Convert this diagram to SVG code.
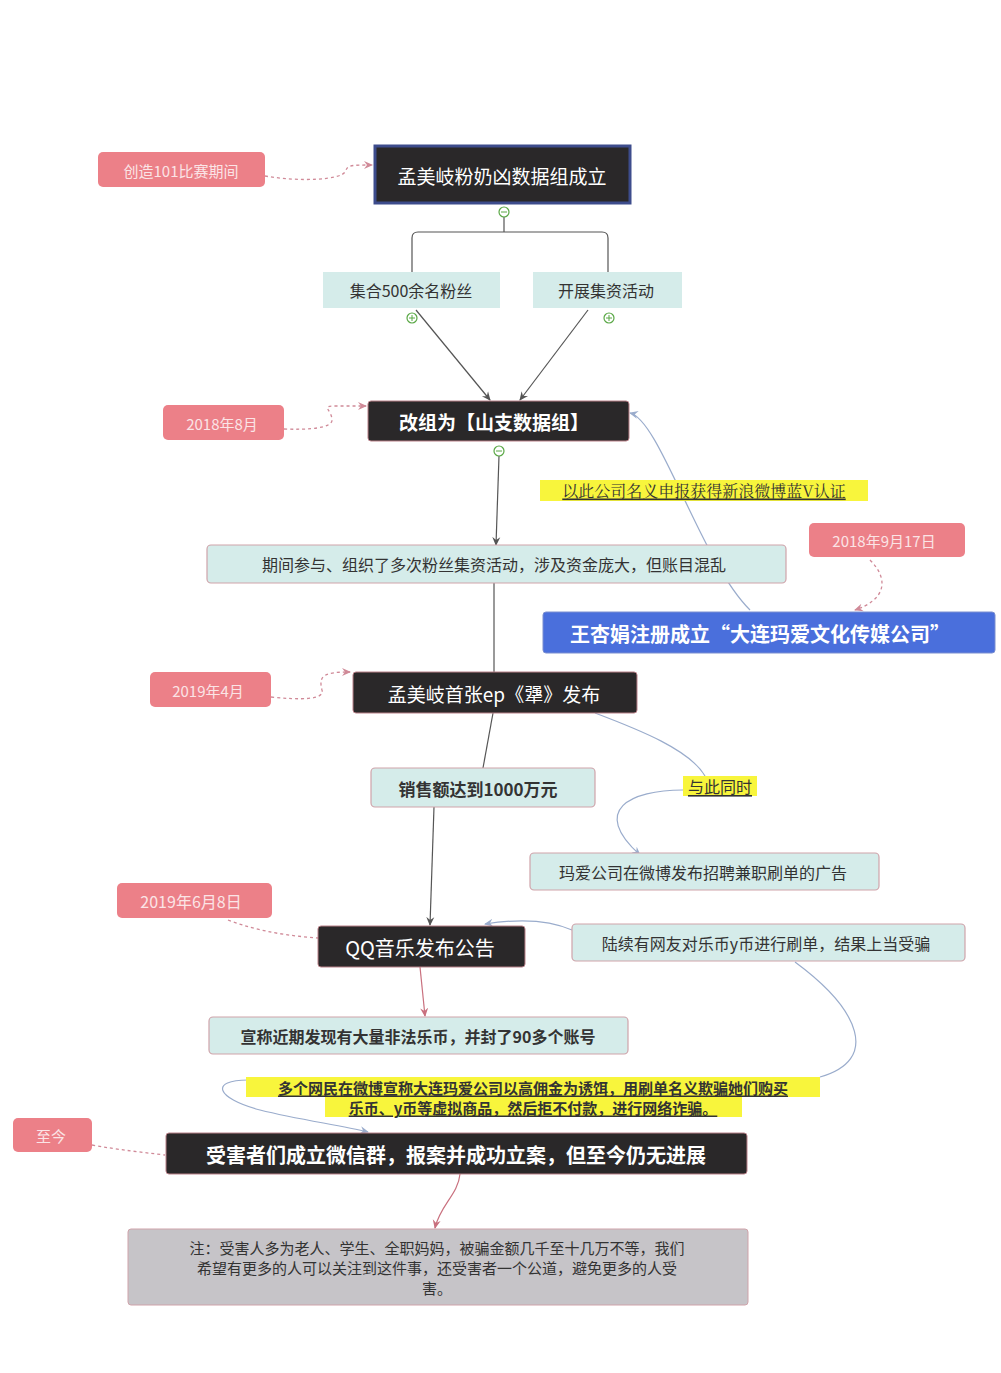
<svg xmlns="http://www.w3.org/2000/svg" width="1001" height="1373" viewBox="0 0 1001 1373">
<style>
text{font-family:"Noto Sans CJK SC","Liberation Sans",sans-serif;text-anchor:middle;dominant-baseline:central}
.pink{fill:#ec8088}
.pt{fill:#fbe4e6;font-size:15px}
.dark{fill:#2a2829;stroke:#b98088;stroke-width:1}
.dt{fill:#fff;font-size:19px}
.b{font-weight:bold}
.lt{fill:#d5ecea;stroke:#cfa3aa;stroke-width:1.2}
.ltt{fill:#333;font-size:16px}
.ln{fill:none;stroke:#555;stroke-width:1.2}
.bl{fill:none;stroke:#9aaccc;stroke-width:1.2}
.pl{fill:none;stroke:#c9707e;stroke-width:1.2}
.dash{fill:none;stroke:#d08a98;stroke-width:1.3;stroke-dasharray:3 3}
.yl{fill:#f8f53c}
.yt{fill:#333;font-size:16px;text-decoration:underline}
.circ{fill:#fff;stroke:#5aa846;stroke-width:1.2}
</style>
<defs>
<marker id="ag" markerWidth="10" markerHeight="10" refX="8" refY="5" orient="auto" markerUnits="userSpaceOnUse"><path d="M0,1 L9,5 L0,9 L3,5z" fill="#555"/></marker>
<marker id="ab" markerWidth="10" markerHeight="10" refX="8" refY="5" orient="auto" markerUnits="userSpaceOnUse"><path d="M0,1 L9,5 L0,9 L3,5z" fill="#9aaccc"/></marker>
<marker id="ap" markerWidth="10" markerHeight="10" refX="8" refY="5" orient="auto" markerUnits="userSpaceOnUse"><path d="M0,1 L9,5 L0,9 L3,5z" fill="#c9707e"/></marker>
<marker id="ad" markerWidth="10" markerHeight="10" refX="8" refY="5" orient="auto" markerUnits="userSpaceOnUse"><path d="M0,1 L9,5 L0,9 L3,5z" fill="#d08a98"/></marker>
</defs>
<rect width="1001" height="1373" fill="#fff"/>
<g id="connectors">
<path class="dash" d="M265,176 C300,182 340,180 345,172 C348,165 350,165 372,165" marker-end="url(#ad)"/>
<path class="ln" d="M504,216 V232 M412,272 V238 Q412,232 418,232 H602 Q608,232 608,238 V272"/>
<path class="ln" d="M416,310 L490,400" marker-end="url(#ag)"/>
<path class="ln" d="M588,310 L520,400" marker-end="url(#ag)"/>
<path class="dash" d="M284,429 C310,430 332,428 332,420 C332,410 320,406 335,406 L366,406" marker-end="url(#ad)"/>
<path class="ln" d="M499,456 L496,545" marker-end="url(#ag)"/>
<path class="bl" d="M750,610 C700,560 660,420 630,413" marker-end="url(#ab)"/>
<path class="dash" d="M870,560 C890,580 885,600 855,610" marker-end="url(#ad)"/>
<path class="ln" d="M494,583 L494,672"/>
<path class="dash" d="M271,697 C300,700 325,700 322,690 C318,675 325,672 350,672" marker-end="url(#ad)"/>
<path class="ln" d="M493,713 L483,768"/>
<path class="bl" d="M595,713 C640,730 690,750 705,776"/>
<path class="bl" d="M683,790 C630,790 590,810 640,855" marker-end="url(#ab)"/>
<path class="ln" d="M434,807 L430,925" marker-end="url(#ag)"/>
<path class="dash" d="M228,920 C260,932 290,936 318,938"/>
<path class="bl" d="M572,930 C545,918 510,920 485,924" marker-end="url(#ab)"/>
<path class="pl" d="M420,967 L425,1016" marker-end="url(#ap)"/>
<path class="bl" d="M795,962 C860,1010 880,1060 820,1077"/>
<path class="bl" d="M248,1080 C210,1080 215,1098 260,1110 C300,1120 340,1125 368,1132" marker-end="url(#ab)"/>
<path class="dash" d="M92,1145 C120,1150 140,1152 165,1155"/>
<path class="pl" d="M460,1174 C458,1195 440,1205 435,1228" marker-end="url(#ap)"/>
</g>
<g id="n1"><rect class="pink" x="98" y="152" width="167" height="35" rx="5"/><text class="pt" x="181" y="170">创造101比赛期间</text></g>
<g id="n2"><rect x="375" y="146" width="255" height="57" fill="#2a2829" stroke="#3d4c8c" stroke-width="3"/><text class="dt" x="502" y="175">孟美岐粉奶凶数据组成立</text></g>
<g id="c1"><circle class="circ" cx="504" cy="212" r="5"/><path d="M501,212h6" stroke="#5aa846"/></g>
<g id="n3"><rect x="323" y="272" width="177" height="36" fill="#d5ecea"/><text class="ltt" x="411" y="290">集合500余名粉丝</text></g>
<g id="n4"><rect x="533" y="272" width="149" height="36" fill="#d5ecea"/><text class="ltt" x="606" y="290">开展集资活动</text></g>
<g id="c2"><circle class="circ" cx="412" cy="318" r="5"/><path d="M409,318h6M412,315v6" stroke="#5aa846"/></g>
<g id="c3"><circle class="circ" cx="609" cy="318" r="5"/><path d="M606,318h6M609,315v6" stroke="#5aa846"/></g>
<g id="n5"><rect class="pink" x="163" y="405" width="121" height="35" rx="5"/><text class="pt" x="222" y="423">2018年8月</text></g>
<g id="n6"><rect class="dark" x="368" y="401" width="261" height="40" rx="3"/><text class="dt b" x="494" y="421">改组为【山支数据组】</text></g>
<g id="c4"><circle class="circ" cx="499" cy="451" r="5"/><path d="M496,451h6" stroke="#5aa846"/></g>
<g id="n7"><rect class="yl" x="540" y="480" width="328" height="21"/><text class="yt" x="704" y="490" style="font-family:'Noto Serif CJK SC','Liberation Serif',serif">以此公司名义申报获得新浪微博蓝V认证</text></g>
<g id="n8"><rect class="lt" x="207" y="545" width="579" height="38" rx="4"/><text class="ltt" x="494" y="564">期间参与、组织了多次粉丝集资活动，涉及资金庞大，但账目混乱</text></g>
<g id="n9"><rect class="pink" x="809" y="523" width="156" height="34" rx="5"/><text class="pt" x="884" y="540">2018年9月17日</text></g>
<g id="n10"><rect x="543" y="612" width="452" height="41" rx="3" fill="#4a6fdc" stroke="#7b8fd0"/><text class="dt b" x="760" y="633" style="font-size:20px">王杏娟注册成立“大连玛爱文化传媒公司”</text></g>
<g id="n11"><rect class="pink" x="150" y="672" width="121" height="35" rx="5"/><text class="pt" x="208" y="690">2019年4月</text></g>
<g id="n12"><rect class="dark" x="353" y="672" width="284" height="41" rx="3"/><text class="dt" x="494" y="693">孟美岐首张ep《犟》发布</text></g>
<g id="n13"><rect class="lt" x="371" y="768" width="224" height="39" rx="4"/><text class="ltt b" x="478" y="788" style="font-size:17px">销售额达到1000万元</text></g>
<g id="n14"><rect class="yl" x="683" y="776" width="74" height="20"/><text class="yt" x="720" y="786">与此同时</text></g>
<g id="n15"><rect class="lt" x="530" y="853" width="349" height="37" rx="4"/><text class="ltt" x="703" y="872">玛爱公司在微博发布招聘兼职刷单的广告</text></g>
<g id="n16"><rect class="pink" x="117" y="883" width="155" height="35" rx="5"/><text class="pt" x="191" y="901" style="font-size:16px">2019年6月8日</text></g>
<g id="n17"><rect class="dark" x="318" y="926" width="207" height="41" rx="3"/><text class="dt" x="420" y="947" style="font-size:20px">QQ音乐发布公告</text></g>
<g id="n18"><rect class="lt" x="572" y="924" width="393" height="37" rx="4"/><text class="ltt" x="766" y="943">陆续有网友对乐币y币进行刷单，结果上当受骗</text></g>
<g id="n19"><rect class="lt" x="209" y="1017" width="419" height="37" rx="4"/><text class="ltt b" x="418" y="1036">宣称近期发现有大量非法乐币，并封了90多个账号</text></g>
<g id="n20"><rect class="yl" x="246" y="1077" width="574" height="20"/><rect class="yl" x="325" y="1097" width="417" height="20"/><text class="yt b" x="533" y="1087" style="font-size:15px">多个网民在微博宣称大连玛爱公司以高佣金为诱饵，用刷单名义欺骗她们购买</text><text class="yt b" x="533" y="1107" style="font-size:15px">乐币、y币等虚拟商品，然后拒不付款，进行网络诈骗。</text></g>
<g id="n21"><rect class="pink" x="13" y="1118" width="79" height="34" rx="5"/><text class="pt" x="51" y="1135">至今</text></g>
<g id="n22"><rect class="dark" x="166" y="1133" width="581" height="41" rx="3"/><text class="dt b" x="456" y="1154" style="font-size:20px">受害者们成立微信群，报案并成功立案，但至今仍无进展</text></g>
<g id="n23"><rect x="128" y="1229" width="620" height="76" rx="3" fill="#c6c4c8" stroke="#cfa3aa"/><text class="ltt" x="437" y="1247" style="font-size:15px">注：受害人多为老人、学生、全职妈妈，被骗金额几千至十几万不等，我们</text><text class="ltt" x="437" y="1267" style="font-size:15px">希望有更多的人可以关注到这件事，还受害者一个公道，避免更多的人受</text><text class="ltt" x="437" y="1287" style="font-size:15px">害。</text></g>
</svg>
